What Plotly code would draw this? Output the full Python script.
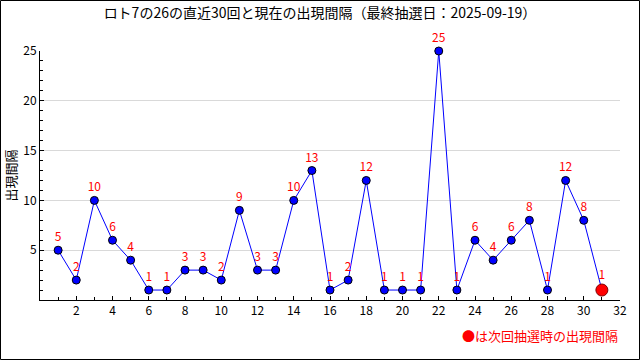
import plotly.graph_objects as go

draws = list(range(1, 31))
intervals = [5, 2, 10, 6, 4, 1, 1, 3, 3, 2, 9, 3, 3, 10, 13, 1, 2, 12, 1, 1, 1, 25, 1, 6, 4, 6, 8, 1, 12, 8]
current_x = 31
current_val = 1
x_ticks = list(range(2, 33, 2))
y_ticks = [5, 10, 15, 20, 25]

title = "ロト7の26の直近30回と現在の出現間隔（最終抽選日：2025-09-19）"
ytitle = "出現間隔"
note = "●は次回抽選時の出現間隔"

FONT = "Noto Sans CJK JP, DejaVu Sans"
W, H = 640, 360
L, R, T, B = 40, 20, 51, 60
pw, ph = W - L - R, H - T - B

fig = go.Figure()
fig.add_trace(go.Scatter(
    x=draws + [current_x], y=intervals + [current_val],
    mode="lines", line=dict(color="#0000ff", width=1), hoverinfo="skip", cliponaxis=False))
fig.add_trace(go.Scatter(
    x=draws, y=intervals, mode="markers+text", cliponaxis=False,
    marker=dict(color="#0000ff", size=8, line=dict(color="#000000", width=1)),
    text=[str(v) for v in intervals], textposition="top center",
    textfont=dict(color="#ff0000", size=12, family=FONT)))
fig.add_trace(go.Scatter(
    x=[current_x], y=[current_val], mode="markers+text", cliponaxis=False,
    marker=dict(color="#ff0000", size=12, line=dict(color="#800000", width=1)),
    text=[str(current_val)], textposition="top center",
    textfont=dict(color="#ff0000", size=12, family=FONT)))

fig.update_layout(
    width=W, height=H,
    margin=dict(l=L, r=R, t=T, b=B, autoexpand=False),
    paper_bgcolor="white", plot_bgcolor="white",
    showlegend=False,
    font=dict(family=FONT, size=12, color="black"),
    title=dict(text=title, x=0.5, xanchor="center", y=1 - 13/H, yanchor="middle",
               font=dict(size=14, color="black", family=FONT)),
    xaxis=dict(range=[0, 32], tickmode="array", tickvals=x_ticks,
               ticks="inside", ticklen=4, tickcolor="black",
               minor=dict(dtick=1, ticks="inside", ticklen=3, tickcolor="black", showgrid=False),
               showline=True, linecolor="black", linewidth=1, showgrid=False, zeroline=False,
               tickfont=dict(size=12, color="black")),
    yaxis=dict(range=[0, 25], tickmode="array", tickvals=y_ticks,
               ticks="inside", ticklen=4, tickcolor="black",
               minor=dict(dtick=1, ticks="inside", ticklen=3, tickcolor="black", showgrid=False),
               showline=True, linecolor="black", linewidth=1,
               showgrid=True, gridcolor="#d9d9d9", gridwidth=1, zeroline=False,
               tickfont=dict(size=12, color="black")),
    shapes=[dict(type="rect", xref="paper", yref="paper",
                 x0=-(L - 0.5) / pw, x1=1 + (R - 0.5) / pw,
                 y0=-(B - 0.5) / ph, y1=1 + (T - 0.5) / ph,
                 line=dict(color="black", width=1), layer="above")],
)
fig.add_annotation(text=ytitle, xref="paper", yref="paper", x=-(L - 10) / pw, y=0.5,
                   xanchor="center", yanchor="middle", textangle=-90, showarrow=False,
                   font=dict(color="black", size=13, family=FONT))
fig.add_annotation(text=note, xref="paper", yref="paper", x=1.0, y=-(35) / ph,
                   xanchor="right", yanchor="middle", showarrow=False,
                   font=dict(color="#ff0000", size=13, family=FONT))

fig.write_html("out.html", config={"displayModeBar": False},
               post_script="document.body.style.margin='0';document.body.style.overflow='hidden';")
